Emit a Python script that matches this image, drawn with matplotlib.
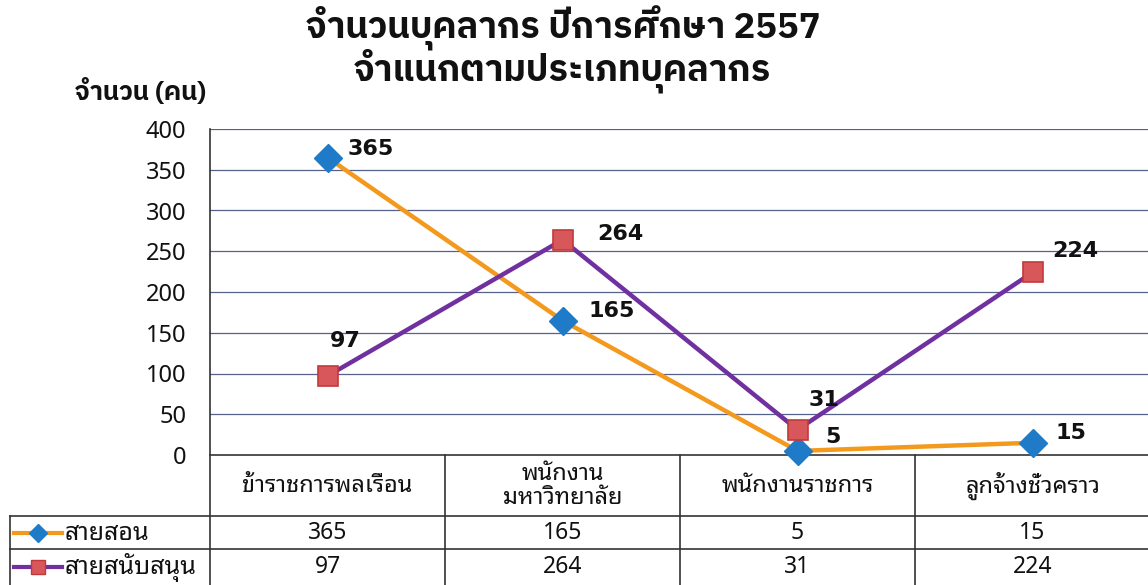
import matplotlib
matplotlib.use("Agg")
import matplotlib.pyplot as plt
from matplotlib.lines import Line2D

# ---------------- data ----------------
categories = ["ข้าราชการพลเรือน", "พนักงาน\nมหาวิทยาลัย", "พนักงานราชการ", "ลูกจ้างชั่วคราว"]
series_names = ["สายสอน", "สายสนับสนุน"]
teaching = [365, 165, 5, 15]
support = [97, 264, 31, 224]
yticks = [0, 50, 100, 150, 200, 250, 300, 350, 400]
title_text = "จำนวนบุคลากร ปีการศึกษา 2557\nจำแนกตามประเภทบุคลากร"
ylabel_text = "จำนวน (คน)"

# ---------------- style ----------------
TH = ["Noto Sans Thai Looped", "DejaVu Sans"]
TH_TITLE = ["IBM Plex Sans Thai", "DejaVu Sans"]
ORANGE = "#F39A1E"
PURPLE = "#7030A0"
BLUE = "#1F7BC8"
RED_F = "#D8575A"
RED_E = "#C0393B"
GRID = "#56618A"
LINEC = "#333333"

W, H = 1148, 585
fig = plt.figure(figsize=(W / 100, H / 100), dpi=100)
L, R, T, B = 210, 1150, 129, 455
ax = fig.add_axes([L / W, 1 - B / H, (R - L) / W, (B - T) / H])
ax.set_xlim(-0.5, len(categories) - 0.5)
ax.set_ylim(0, 400)

x = list(range(len(categories)))
ax.plot(x, teaching, color=ORANGE, lw=3.2, marker="D", ms=14, mfc=BLUE, mec=BLUE, zorder=4, clip_on=False)
ax.plot(x, support, color=PURPLE, lw=3.2, marker="s", ms=14, mfc=RED_F, mec=RED_E, mew=1.2, zorder=5, clip_on=False)

# data labels (offsets in pixels: left edge, vertical centre)
off_t = [(20, 9), (26, 10), (28, 14), (23, 10)]
off_s = [(2, 35), (35, 6), (11, 30), (20, 21)]
for vals, offs in ((teaching, off_t), (support, off_s)):
    for i, v in enumerate(vals):
        ax.annotate(str(v), (i, v), xytext=offs[i], textcoords="offset pixels",
                    fontsize=16, fontweight="bold", family="DejaVu Sans", ha="left",
                    va="center", color="#111111", zorder=6)

# grid / axes
ax.set_yticks(yticks)
ax.set_yticklabels([str(t) for t in yticks], family=TH, fontsize=17, color="#111111")
ax.tick_params(axis="y", length=0, pad=17)
ax.set_xticks([])
for y in yticks[1:]:
    ax.axhline(y, color=GRID, lw=0.9, zorder=1)
for s in ["top", "right", "bottom", "left"]:
    ax.spines[s].set_visible(False)

# ------------- data table below axes (axes-fraction coords) -------------
ph = B - T
pw = R - L
def fy(py):
    return (B - py) / ph
def fx(px):
    return (px - L) / pw

kw = dict(transform=ax.transAxes, clip_on=False, color=LINEC, lw=1.2)
ax.add_line(Line2D([0, 0], [1, fy(590)], **kw))
ax.add_line(Line2D([0, 1.01], [0, 0], **kw))
ax.add_line(Line2D([fx(10), 1.01], [fy(516), fy(516)], **kw))
ax.add_line(Line2D([fx(10), 1.01], [fy(549), fy(549)], **kw))
ax.add_line(Line2D([fx(10), fx(10)], [fy(516), fy(590)], **kw))
for k in range(1, len(categories)):
    xx = k / len(categories)
    ax.add_line(Line2D([xx, xx], [0, fy(590)], **kw))

for i, c in enumerate(categories):
    ax.text((i + 0.5) / len(categories), fy(486), c, transform=ax.transAxes,
            ha="center", va="center", family=TH, fontsize=17, color="#111111",
            linespacing=0.95, fontweight="medium")
rows = [teaching, support]
row_y = [533, 567]
for r, vals in enumerate(rows):
    for i, v in enumerate(vals):
        ax.text((i + 0.5) / len(categories), fy(row_y[r]), str(v), transform=ax.transAxes,
                ha="center", va="center", family=TH, fontsize=16.5, color="#111111",
                fontweight="medium")

keys = [(ORANGE, "D", BLUE, BLUE, 9), (PURPLE, "s", RED_F, RED_E, 10)]
for r, (lc, mk, mf, me, ms) in enumerate(keys):
    yy = fy(row_y[r])
    ax.add_line(Line2D([fx(14), fx(62)], [yy, yy], transform=ax.transAxes, clip_on=False,
                       color=lc, lw=3))
    ax.add_line(Line2D([fx(38)], [yy], transform=ax.transAxes, clip_on=False,
                       marker=mk, ms=ms, mfc=mf, mec=me, ls="none"))
    ax.text(fx(65), yy, series_names[r], transform=ax.transAxes, ha="left", va="center",
            family=TH, fontsize=18, color="#111111", fontweight="medium")

# titles
fig.text(563 / W, 1 - 49 / H, title_text, ha="center", va="center", family=TH_TITLE,
         fontsize=26, fontweight="bold", linespacing=0.92, color="#111111")
fig.text(141 / W, 1 - 92 / H, ylabel_text, ha="center", va="center", family=TH_TITLE,
         fontsize=18.5, fontweight="bold", color="#111111")

fig.savefig("out.png", dpi=100)
